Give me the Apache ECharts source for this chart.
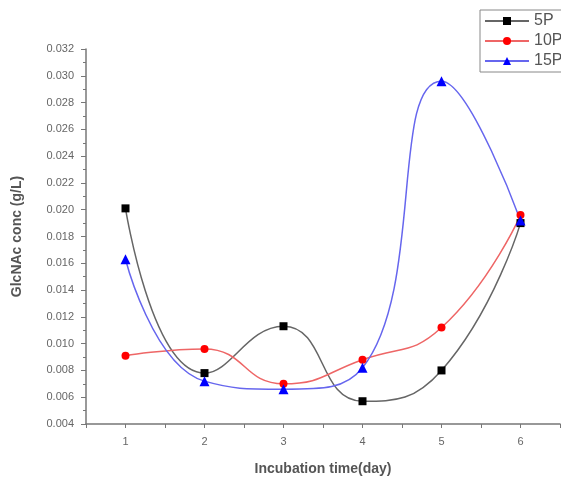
<!DOCTYPE html>
<html><head><meta charset="utf-8">
<script src="https://cdn.jsdelivr.net/npm/echarts@6/dist/echarts.min.js"></script>
<style>html,body{margin:0;padding:0;background:#fff}#c{width:561px;height:479px}</style>
</head><body><div id="c"></div>
<script>
const days = [1, 2, 3, 4, 5, 6];
const s5P  = [0.0201, 0.0078, 0.0113, 0.0057, 0.0080, 0.0190];
const s10P = [0.0091, 0.0096, 0.0070, 0.0088, 0.0112, 0.0196];
const s15P = [0.0163, 0.0072, 0.0066, 0.0082, 0.0296, 0.0192];
const seriesNames = ['5P', '10P', '15P'];

const pairs = arr => days.map((d, i) => [d, arr[i]]);
const chart = echarts.init(document.getElementById('c'));
const mk = (name, data, lineColor, symColor, symbol) => ({
  name, type: 'line', data: pairs(data), smooth: 0.5,
  symbol, symbolSize: symbol === 'triangle' ? 10 : 8,
  lineStyle: { color: lineColor, width: 1.5 },
  itemStyle: { color: symColor },
  z: 2
});
chart.setOption({
  animation: false,
  grid: { left: 86, right: 1, top: 49, bottom: 55, outerBoundsMode: 'none', containLabel: false },
  legend: {
    orient: 'vertical', left: 480, top: 10, itemGap: 4,
    itemWidth: 44, itemHeight: 10,
    borderColor: '#888', borderWidth: 1, padding: [3, 6, 3, 4],
    textStyle: { fontSize: 16, color: '#555', fontFamily: 'Liberation Sans' },
    data: seriesNames
  },
  xAxis: {
    type: 'value', min: 0.5, max: 6.5, interval: 0.5,
    name: 'Incubation time(day)', nameLocation: 'middle', nameGap: 38,
    nameTextStyle: { fontSize: 14, color: '#555', fontWeight: 'bold', fontFamily: 'Liberation Sans' },
    axisLine: { lineStyle: { color: '#777', width: 1.5 } },
    axisTick: { lineStyle: { color: '#777' }, length: 4 },
    axisLabel: { color: '#666', fontSize: 11, margin: 12, fontFamily: 'Liberation Sans',
      formatter: v => Number.isInteger(v) ? String(v) : '' },
    splitLine: { show: false }
  },
  yAxis: {
    type: 'value', min: 0.004, max: 0.032, interval: 0.002,
    name: 'GlcNAc conc (g/L)', nameLocation: 'middle', nameGap: 62, nameRotate: 90,
    nameTextStyle: { fontSize: 14, color: '#555', fontWeight: 'bold', fontFamily: 'Liberation Sans' },
    axisLine: { show: true, lineStyle: { color: '#777', width: 1.5 } },
    axisTick: { show: true, lineStyle: { color: '#777' }, length: 5 },
    minorTick: { show: true, splitNumber: 2, length: 3, lineStyle: { color: '#777' } },
    axisLabel: { color: '#666', fontSize: 11, margin: 12, fontFamily: 'Liberation Sans',
      formatter: v => v.toFixed(3) },
    splitLine: { show: false }
  },
  series: [
    mk('5P', s5P, '#666666', '#000000', 'rect'),
    mk('10P', s10P, '#ee6666', '#ff0000', 'circle'),
    mk('15P', s15P, '#6666ee', '#0000ff', 'triangle')
  ]
});
</script></body></html>
